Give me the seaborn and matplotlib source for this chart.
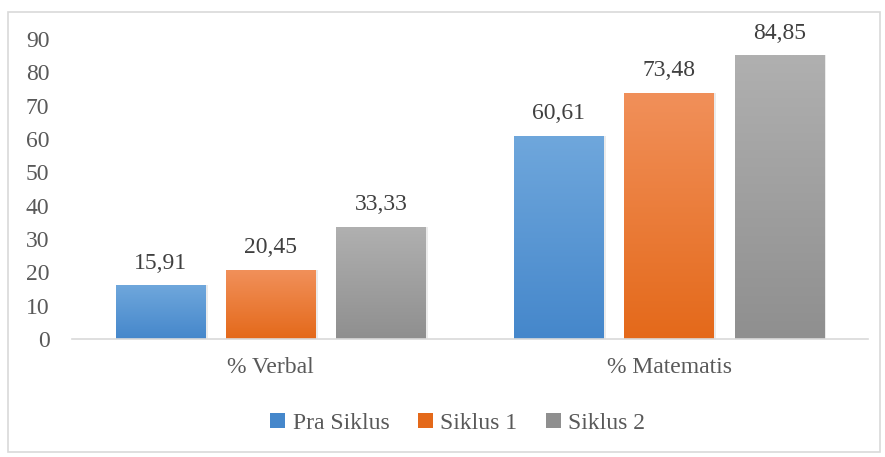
import numpy as np
import pandas as pd
import seaborn as sns
import matplotlib.pyplot as plt
from matplotlib.colors import LinearSegmentedColormap
from matplotlib.patches import Rectangle, Patch

# data
categories = ["% Verbal", "% Matematis"]
series = ["Pra Siklus", "Siklus 1", "Siklus 2"]
pra_siklus = [15.91, 60.61]
siklus_1 = [20.45, 73.48]
siklus_2 = [33.33, 84.85]

df = pd.DataFrame({
    "kategori": categories * 3,
    "siklus": [s for s in series for _ in categories],
    "nilai": pra_siklus + siklus_1 + siklus_2,
})

# gradient colours (top, bottom) per series
grad = {
    "Pra Siklus": ("#6fa7dc", "#4587cb"),
    "Siklus 1": ("#f1905a", "#e4691a"),
    "Siklus 2": ("#b0b0b0", "#8f8f8f"),
}
mid = {k: v[1] for k, v in grad.items()}

sns.set_theme(style="white")
plt.rcParams["font.family"] = ["Liberation Serif", "DejaVu Serif"]
text_col = "#595959"
fs = 17

fig = plt.figure(figsize=(8.85, 4.57), dpi=100)
ax = fig.add_axes([0.081, 0.258, 0.900, 0.657])

sns.barplot(data=df, x="kategori", y="nilai", hue="siklus", order=categories,
            hue_order=series, palette=mid, width=0.83, gap=0.19,
            legend=False, ax=ax)

ax.set_ylim(0, 90)
ax.set_yticks(range(0, 91, 10))

# gradient fill for each bar
for name, cont in zip(series, ax.containers):
    cmap = LinearSegmentedColormap.from_list(name, [grad[name][1], grad[name][0]])
    for p in cont.patches:
        x0, w, h = p.get_x(), p.get_width(), p.get_height()
        # soft shadow
        ax.add_patch(Rectangle((x0 + 0.006, 0), w, h + 0.4, color="#000000",
                               alpha=0.08, lw=0, zorder=1))
        g = np.linspace(0, 1, 256).reshape(-1, 1)
        ax.imshow(g, extent=(x0, x0 + w, 0, h), origin="lower", aspect="auto",
                  cmap=cmap, zorder=2)
        p.set_facecolor("none")
    ax.bar_label(cont, labels=[f"{v:.2f}".replace(".", ",") for v in cont.datavalues],
                 padding=9, fontsize=fs, color="#404040", clip_on=False)

ax.set_xlim(-0.5, 1.5)
ax.set_ylim(0, 90)

for s in ["top", "right", "left"]:
    ax.spines[s].set_visible(False)
ax.spines["bottom"].set_color("#d9d9d9")
ax.spines["bottom"].set_linewidth(1.2)
ax.set_xlabel("")
ax.set_ylabel("")
ax.tick_params(axis="y", length=0, pad=16, labelsize=fs, labelcolor=text_col)
ax.tick_params(axis="x", length=0, pad=13, labelsize=fs, labelcolor=text_col)

handles = [Patch(facecolor=mid[s], edgecolor="none") for s in series]
fig.legend(handles, series, loc="center", bbox_to_anchor=(0.517, 0.074), ncol=3,
           frameon=False, fontsize=fs, labelcolor=text_col, handlelength=0.65,
           handleheight=0.65, handletextpad=0.3, columnspacing=1.2)

# outer chart border
fig.add_artist(Rectangle((0.009, 0.012), 0.985, 0.962, transform=fig.transFigure,
                         fill=False, edgecolor="#d9d9d9", lw=1.2))

fig.savefig("out.png", dpi=100)
